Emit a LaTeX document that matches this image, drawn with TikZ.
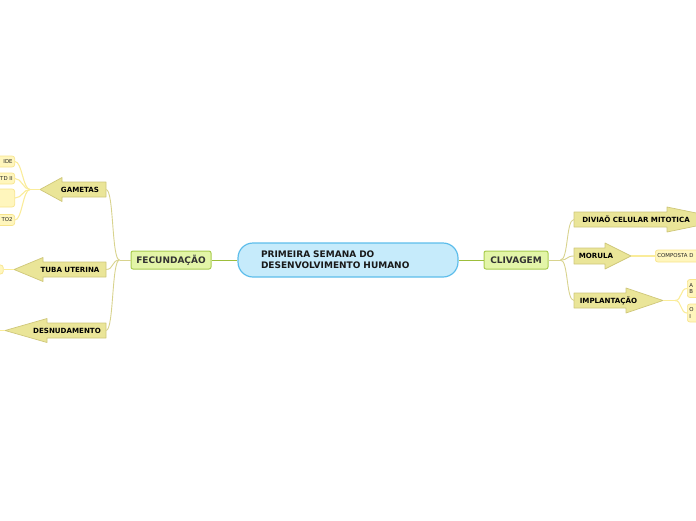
\documentclass[tikz,border=0pt]{standalone}
\usepackage{fontspec}
\setmainfont{DejaVu Sans}
\definecolor{rootfill}{HTML}{C6EBFB}
\definecolor{rootline}{HTML}{5DBDEB}
\definecolor{mainfill}{HTML}{E3F5A8}
\definecolor{mainline}{HTML}{A9CC4F}
\definecolor{mainlink}{HTML}{9DBE3B}
\definecolor{branchlink}{HTML}{D8D38E}
\definecolor{arrfill}{HTML}{EAE598}
\definecolor{arrline}{HTML}{CFC77A}
\definecolor{leaffill}{HTML}{FFF6BD}
\definecolor{leafline}{HTML}{F7E48C}
\definecolor{leaflink}{HTML}{FAEC9A}
\tikzset{
  rootbox/.style={draw=rootline, fill=rootfill, line width=1.2pt, rounded corners=15pt,
    minimum width=220pt, minimum height=34pt, text width=174pt, align=left, inner sep=0pt,
    font=\fontsize{9}{11}\selectfont\bfseries, text=black!90},
  mainbox/.style={draw=mainline, fill=mainfill, line width=1pt, rounded corners=2pt,
    minimum height=18pt, inner sep=0pt, font=\fontsize{9}{10}\selectfont\bfseries, text=black!80},
  arrshape/.style={draw=arrline, fill=arrfill, line width=0.7pt, line join=round},
  arrlbl/.style={inner sep=0pt, font=\fontsize{7.1}{8}\selectfont\bfseries, text=black},
  leaf/.style={draw=leafline, fill=leaffill, line width=0.7pt, rounded corners=2.5pt,
    inner sep=2pt, font=\fontsize{5.4}{6.5}\selectfont, text=black!85},
  mlink/.style={draw=mainlink, line width=0.9pt},
  blink/.style={draw=branchlink, line width=0.9pt},
  llink/.style={draw=leaflink, line width=1.1pt}
}
\begin{document}
\begin{tikzpicture}[x=1pt,y=-1pt]
\useasboundingbox (0,0) rectangle (696,520);
\clip (0,0) rectangle (696,520);

% centre and main topics
\node[rootbox] (root) at (348,260) {PRIMEIRA SEMANA DO\\DESENVOLVIMENTO HUMANO};
\node[mainbox, minimum width=80pt] (fec) at (171,260) {FECUNDAÇÃO};
\node[mainbox, minimum width=64pt] (cliv) at (516,260) {CLIVAGEM};
\draw[mlink] (root.west) -- (fec.east);
\draw[mlink] (root.east) -- (cliv.west);

% left arrows
\coordinate (gam-in) at (106,189.5);
\coordinate (gam-tip) at (40,189.5);
\draw[arrshape] (106,182) -- (62,182) -- (62,177.5) -- (gam-tip) -- (62,201.5) -- (62,197) -- (106,197) -- cycle
  node[arrlbl] (gam) at (80,189.5) {GAMETAS};
\coordinate (tuba-in) at (106,269.5);
\coordinate (tuba-tip) at (14,269.5);
\draw[arrshape] (106,262) -- (43,262) -- (43,257.5) -- (tuba-tip) -- (43,281.5) -- (43,277) -- (106,277) -- cycle
  node[arrlbl] (tuba) at (70,269.5) {TUBA UTERINA};
\coordinate (desn-in) at (106,330.5);
\coordinate (desn-tip) at (5,330.5);
\draw[arrshape] (106,323) -- (47,323) -- (47,318.5) -- (desn-tip) -- (47,342.5) -- (47,338) -- (106,338) -- cycle
  node[arrlbl] (desn) at (67,330.5) {DESNUDAMENTO};

\draw[blink] (fec.west) -- ++(-11,0) coordinate (fec-j);
\foreach \t in {gam-in, tuba-in, desn-in}
  \draw[blink] (fec-j) .. controls +(-8,0) and +(8,0) .. (\t);

% right arrows
\coordinate (div-in) at (574,219.5);
\draw[arrshape] (574,212) -- (667,212) -- (667,207) -- (728,219.5) -- (667,232) -- (667,227) -- (574,227) -- cycle
  node[arrlbl] (div) at (636,219.5) {DIVIAÕ CELULAR MITOTICA};
\coordinate (mor-in) at (574,256);
\coordinate (mor-tip) at (631,256);
\draw[arrshape] (574,248) -- (605,248) -- (605,243) -- (mor-tip) -- (605,269) -- (605,264) -- (574,264) -- cycle
  node[arrlbl] (mor) at (596,256) {MORULA};
\coordinate (imp-in) at (574,300.5);
\coordinate (imp-tip) at (663,300.5);
\draw[arrshape] (574,293) -- (626,293) -- (626,288) -- (imp-tip) -- (626,313) -- (626,308) -- (574,308) -- cycle
  node[arrlbl] (imp) at (608.5,300.5) {IMPLANTAÇÃO};

\draw[blink] (cliv.east) -- ++(12,0) coordinate (cliv-j);
\foreach \t in {div-in, mor-in, imp-in}
  \draw[blink] (cliv-j) .. controls +(8,0) and +(-8,0) .. (\t);

% leaves of GAMETAS
\node[leaf, anchor=east, text width=30pt, align=right, minimum height=11pt] (g1) at (15,161.5) {IDE};
\node[leaf, anchor=east, text width=30pt, align=right, minimum height=11pt] (g2) at (15,178.5) {TD II};
\node[leaf, anchor=east, text width=30pt, minimum height=18pt] (g3) at (15,198) {};
\node[leaf, anchor=east, text width=30pt, align=right, minimum height=11pt] (g4) at (15,220) {TO2};
\draw[llink] (gam-tip) -- ++(-10,0) coordinate (gam-j);
\foreach \l in {g1, g2, g3, g4}
  \draw[llink] (gam-j) .. controls +(-7,0) and +(7,0) .. (\l.east);

% leaves of TUBA UTERINA and DESNUDAMENTO
\node[leaf, anchor=east, text width=20pt, minimum height=9pt, inner sep=0pt] (t1) at (3.5,269.5) {};
\draw[llink] (tuba-tip) -- (t1.east);
\node[leaf, anchor=east, text width=20pt, minimum height=11pt] (d1) at (-3,330.5) {};
\draw[llink] (desn-tip) -- (d1.east);

% leaves of MORULA and IMPLANTAÇÃO
\node[leaf, anchor=west, text width=60pt, align=left, minimum height=12pt] (m1) at (655,256) {COMPOSTA D};
\draw[llink] (mor-tip) -- (m1.west);
\node[leaf, anchor=west, text width=30pt, align=left, minimum height=18pt] (i1) at (687,288.5) {A\\B};
\node[leaf, anchor=west, text width=30pt, align=left, minimum height=18pt] (i2) at (687,313) {O\\I};
\draw[llink] (imp-tip) -- ++(12,0) coordinate (imp-j);
\foreach \l in {i1, i2}
  \draw[llink] (imp-j) .. controls +(7,0) and +(-7,0) .. (\l.west);
\end{tikzpicture}
\end{document}
